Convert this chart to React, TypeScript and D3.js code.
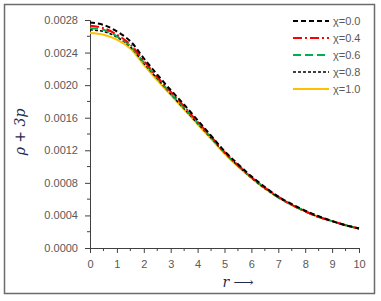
import React, { useEffect, useRef } from "react";
import * as d3 from "d3";

const rValues = [0, 0.5, 1, 1.5, 2, 2.5, 3, 3.5, 4, 4.5, 5, 5.5, 6, 6.5, 7, 7.5, 8, 8.5, 9, 9.5, 10];

const chi00 = [0.00277, 0.00274, 0.00266, 0.00254, 0.00233, 0.00213, 0.00194, 0.00176, 0.00157, 0.00138, 0.00119, 0.00103, 0.00088, 0.00075, 0.00063, 0.00054, 0.00046, 0.00039, 0.00033, 0.00028, 0.00024];
const chi04 = [0.00273, 0.0027, 0.00262, 0.0025, 0.0023, 0.0021, 0.00192, 0.00174, 0.00155, 0.00137, 0.00118, 0.00102, 0.00087, 0.00074, 0.00063, 0.00053, 0.00045, 0.00038, 0.00033, 0.00028, 0.00024];
const chi06 = [0.0027, 0.00268, 0.0026, 0.00248, 0.00228, 0.00209, 0.0019, 0.00172, 0.00154, 0.00136, 0.00117, 0.00101, 0.00087, 0.00074, 0.00062, 0.00053, 0.00045, 0.00038, 0.00033, 0.00028, 0.00024];
const chi08 = [0.00268, 0.00266, 0.00259, 0.00247, 0.00227, 0.00208, 0.00189, 0.00171, 0.00153, 0.00135, 0.00117, 0.00101, 0.00086, 0.00073, 0.00062, 0.00053, 0.00045, 0.00038, 0.00033, 0.00028, 0.00024];
const chi10 = [0.00264, 0.00262, 0.00256, 0.00245, 0.00225, 0.00206, 0.00188, 0.0017, 0.00152, 0.00134, 0.00116, 0.001, 0.00086, 0.00073, 0.00062, 0.00053, 0.00045, 0.00038, 0.00033, 0.00028, 0.00024];

const seriesNames = ["χ=0.0", "χ=0.4", "χ=0.6", "χ=0.8", "χ=1.0"];
const seriesData = [chi00, chi04, chi06, chi08, chi10];
const seriesColors = ["#000000", "#ff0000", "#00b050", "#000000", "#ffc000"];
const seriesDash = ["5,3", "9,3,2,3", "8,4", "3,2", null];
const seriesWidth = [2, 2, 2, 1.5, 2];

const yTicks = [0, 0.0004, 0.0008, 0.0012, 0.0016, 0.002, 0.0024, 0.0028];
const xTicks = [0, 1, 2, 3, 4, 5, 6, 7, 8, 9, 10];

const App = () => {
  const ref = useRef<SVGSVGElement>(null);

  useEffect(() => {
    const width = 381,
      height = 301;
    const svg = d3.select(ref.current);
    svg.selectAll("*").remove();

    const x = d3.scaleLinear().domain([0, 10]).range([90, 359]);
    const y = d3.scaleLinear().domain([0, 0.0028]).range([248, 20]);
    const font = "'Liberation Sans', Arial, sans-serif";

    // outer frame
    svg
      .append("rect")
      .attr("x", 4.5)
      .attr("y", 4.5)
      .attr("width", 370)
      .attr("height", 289)
      .attr("fill", "white")
      .attr("stroke", "#6b6b6b")
      .attr("stroke-width", 1.5);

    // y axis
    const yAxis = d3
      .axisLeft(y)
      .tickValues(yTicks)
      .tickSize(5)
      .tickFormat((d) => d3.format(".4f")(d as number));
    const gy = svg.append("g").attr("transform", "translate(90,0)").call(yAxis);
    gy.select(".domain").attr("stroke", "#404040");
    gy.selectAll("line").attr("stroke", "#404040");
    gy.selectAll("text")
      .attr("fill", "#595959")
      .style("font-family", font)
      .style("font-size", "11px")
      .attr("x", -12);

    // y minor ticks
    svg
      .append("g")
      .selectAll("line")
      .data(d3.range(1, 14, 2).map((i) => i * 0.0002))
      .join("line")
      .attr("x1", 87)
      .attr("x2", 90)
      .attr("y1", (d) => y(d))
      .attr("y2", (d) => y(d))
      .attr("stroke", "#404040");

    // x axis
    const xAxis = d3.axisBottom(x).tickValues(xTicks).tickSize(5).tickFormat(d3.format("d"));
    const gx = svg.append("g").attr("transform", "translate(0,248)").call(xAxis);
    gx.select(".domain").attr("stroke", "#404040");
    gx.selectAll("line").attr("stroke", "#404040");
    gx.selectAll("text")
      .attr("fill", "#595959")
      .style("font-family", font)
      .style("font-size", "11px")
      .attr("y", 12);

    svg
      .append("g")
      .selectAll("line")
      .data(d3.range(0, 10).map((i) => i + 0.5))
      .join("line")
      .attr("x1", (d) => x(d))
      .attr("x2", (d) => x(d))
      .attr("y1", 248)
      .attr("y2", 251)
      .attr("stroke", "#404040");

    // curves, last series underneath
    const line = d3
      .line<number>()
      .x((d, i) => x(rValues[i]))
      .y((d) => y(d))
      .curve(d3.curveCatmullRom);

    const order = [4, 3, 2, 1, 0];
    order.forEach((k) => {
      svg
        .append("path")
        .attr("d", line(seriesData[k]))
        .attr("fill", "none")
        .attr("stroke", seriesColors[k])
        .attr("stroke-width", seriesWidth[k])
        .attr("stroke-dasharray", seriesDash[k] || null);
    });

    // legend
    const legend = svg.append("g");
    seriesNames.forEach((name, i) => {
      const ly = 21 + i * 17;
      legend
        .append("line")
        .attr("x1", 293)
        .attr("x2", 329)
        .attr("y1", ly)
        .attr("y2", ly)
        .attr("stroke", seriesColors[i])
        .attr("stroke-width", seriesWidth[i])
        .attr("stroke-dasharray", seriesDash[i] || null);
      legend
        .append("text")
        .attr("x", 333)
        .attr("y", ly)
        .attr("dy", "0.35em")
        .attr("fill", "#595959")
        .style("font-family", font)
        .style("font-size", "11px")
        .text(name);
    });

    // axis titles
    svg
      .append("text")
      .attr("x", 238)
      .attr("y", 287)
      .attr("text-anchor", "middle")
      .attr("fill", "#1f2a4f")
      .style("font-family", "'DejaVu Serif', serif")
      .style("font-size", "14px")
      .html("<tspan font-style='italic'>r</tspan> ⟶");

    svg
      .append("text")
      .attr("transform", "translate(25,132) rotate(-90)")
      .attr("text-anchor", "middle")
      .attr("fill", "#1f2a4f")
      .style("font-family", "'DejaVu Serif', serif")
      .style("font-size", "14px")
      .style("font-style", "italic")
      .text("ρ + 3p");

    svg.attr("width", width).attr("height", height);
  }, []);

  return (
    <svg
      ref={ref}
      width={381}
      height={301}
      style={{ position: "absolute", left: 0, top: 0, background: "white" }}
    ></svg>
  );
};

export default App;
